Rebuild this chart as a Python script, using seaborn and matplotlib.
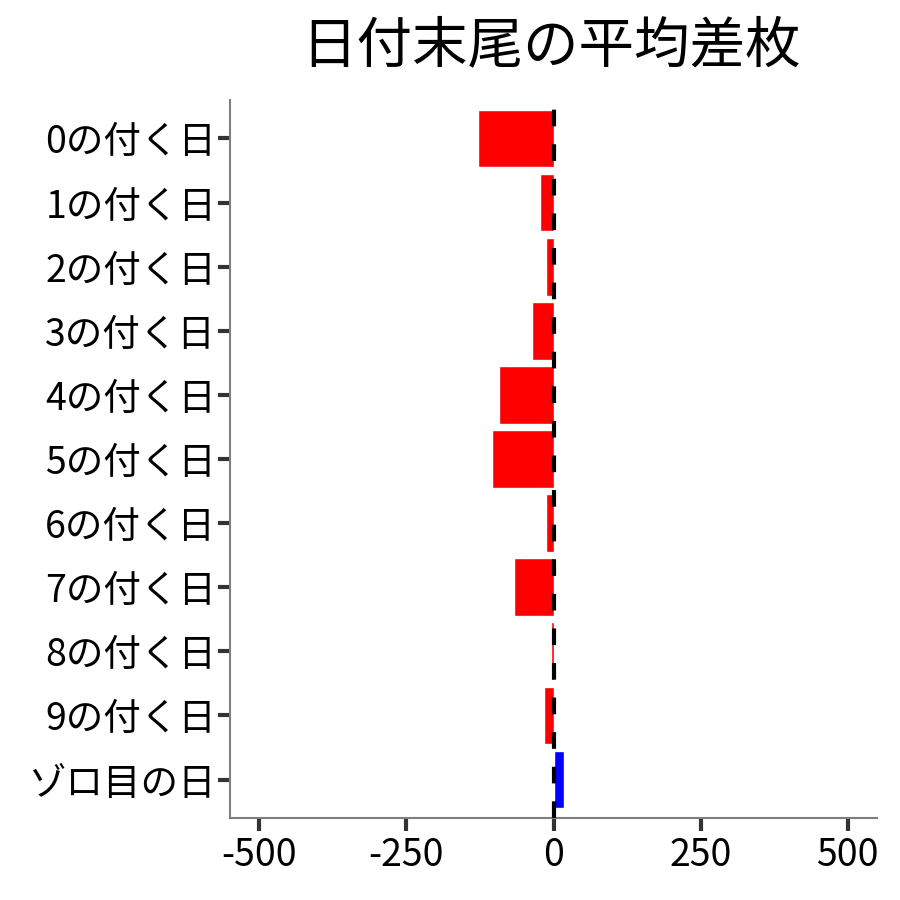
import pandas as pd
import matplotlib
matplotlib.use("Agg")
import matplotlib.pyplot as plt
import seaborn as sns

# --- data ---
days = ["0の付く日", "1の付く日", "2の付く日", "3の付く日", "4の付く日",
        "5の付く日", "6の付く日", "7の付く日", "8の付く日", "9の付く日", "ゾロ目の日"]
avg_diff = [-128, -23, -12, -36, -92, -104, -12, -68, -4, -16, 18]
x_ticks = [-500, -250, 0, 250, 500]

df = pd.DataFrame({"day": days, "diff": avg_diff})
df["sign"] = ["plus" if v > 0 else "minus" for v in df["diff"]]

sns.set_style("white")
plt.rcParams["font.family"] = ["Noto Sans CJK JP", "DejaVu Sans"]

fig = plt.figure(figsize=(9, 9), dpi=100)
ax = fig.add_axes([0.2556, 0.0911, 0.7188, 0.7978])

sns.barplot(data=df, x="diff", y="day", hue="sign", order=days,
            palette={"minus": "#FF0000", "plus": "#0000FF"},
            orient="h", width=0.9, dodge=False, saturation=1,
            legend=False, ax=ax)

# zero reference line
ax.axvline(0, color="black", lw=3, ls=(0, (4, 4.3)), zorder=5)

ax.set_xlim(-550, 550)
ax.set_ylim(len(days) - 0.4, -0.6)
ax.set_xticks(x_ticks)
ax.set_xticklabels([str(t) for t in x_ticks])
ax.set_xlabel("")
ax.set_ylabel("")

for side in ["top", "right"]:
    ax.spines[side].set_visible(False)
for side in ["left", "bottom"]:
    ax.spines[side].set_color("#7f7f7f")
    ax.spines[side].set_linewidth(1.5)

ax.tick_params(axis="both", bottom=True, left=True, length=9, width=3,
               color="#333333", labelsize=27, labelcolor="black",
               pad=4, direction="out")
ax.tick_params(axis="y", pad=1)

fig.text(0.612, 0.948, "日付末尾の平均差枚", ha="center", va="center",
         fontsize=40, color="black")

fig.savefig("out.png", dpi=100)
